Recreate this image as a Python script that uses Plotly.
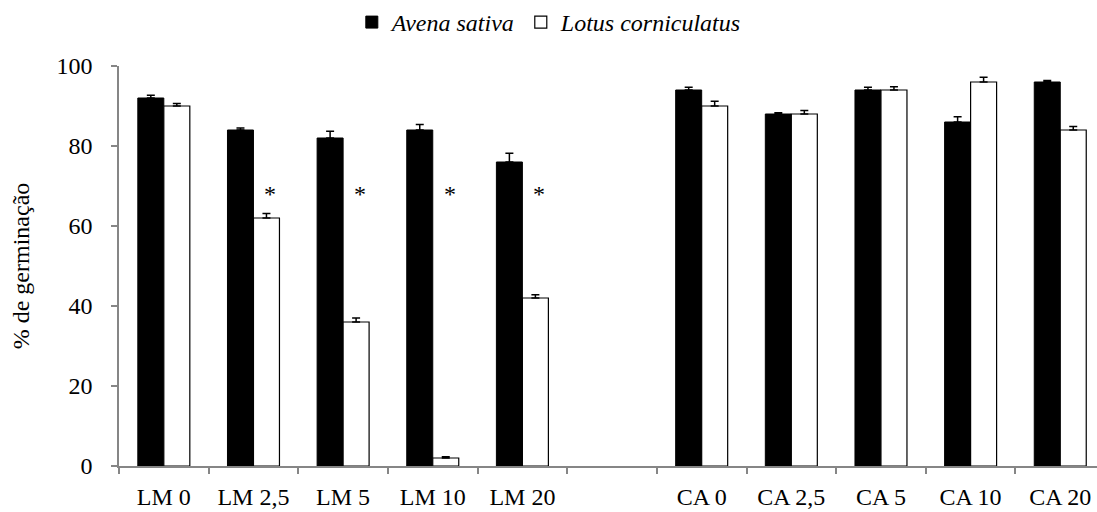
import plotly.graph_objects as go

# Treatments (blank slot separates the two groups)
categories = ["LM 0", "LM 2,5", "LM 5", "LM 10", "LM 20", " ",
              "CA 0", "CA 2,5", "CA 5", "CA 10", "CA 20"]

# Germination (%) and standard error per species
avena = [92, 84, 82, 84, 76, None, 94, 88, 94, 86, 96]
avena_err = [0.7, 0.5, 1.7, 1.4, 2.2, 0, 0.7, 0.3, 0.7, 1.3, 0.4]
lotus = [90, 62, 36, 2, 42, None, 90, 88, 94, 96, 84]
lotus_err = [0.6, 1.1, 1.0, 0.3, 0.8, 0, 1.2, 0.9, 0.8, 1.2, 0.9]

# Treatments with significant difference for Lotus corniculatus
signif = ["LM 2,5", "LM 5", "LM 10", "LM 20"]
signif_y = 68

y_ticks = [0, 20, 40, 60, 80, 100]

FONT = "'Times New Roman', 'Liberation Serif', serif"
AXIS_COLOR = "#868686"

fig = go.Figure()

fig.add_trace(go.Bar(
    name="Avena sativa",
    x=categories, y=avena,
    marker=dict(color="black", line=dict(color="black", width=1)),
    error_y=dict(type="data", array=avena_err, arrayminus=[0] * len(avena_err),
                 symmetric=False, color="black", thickness=1.5, width=4),
))
fig.add_trace(go.Bar(
    name="Lotus corniculatus",
    x=categories, y=lotus,
    marker=dict(color="white", line=dict(color="black", width=1.2)),
    error_y=dict(type="data", array=lotus_err, arrayminus=[0] * len(lotus_err),
                 symmetric=False, color="black", thickness=1.5, width=4),
))

# Significance markers above the Lotus bars
for c in signif:
    fig.add_annotation(x=c, y=signif_y, text="*", showarrow=False,
                       xshift=17, yanchor="middle",
                       font=dict(family=FONT, size=24, color="black"))

fig.update_layout(
    width=1097, height=512,
    margin=dict(l=119, r=0, t=66, b=46),
    paper_bgcolor="white", plot_bgcolor="white",
    barmode="group", bargap=0.42, bargroupgap=0,
    font=dict(family=FONT, size=24, color="black"),
    showlegend=True,
    legend=dict(orientation="h", x=0.44, xanchor="center", y=1.11, yanchor="middle",
                font=dict(family=FONT, size=24, color="black", style="italic"),
                itemwidth=30, traceorder="normal"),
)

fig.update_xaxes(
    type="category", categoryorder="array", categoryarray=categories,
    range=[-0.5, 10.41],
    showline=True, linecolor=AXIS_COLOR, linewidth=1.5,
    ticks="outside", tickson="boundaries", ticklen=6, tickcolor=AXIS_COLOR, tickwidth=1.5,
    tickfont=dict(family=FONT, size=24, color="black"),
    ticklabelstandoff=8,
    showgrid=False, zeroline=False,
)
fig.update_yaxes(
    range=[0, 100], tickvals=y_ticks,
    showline=True, linecolor=AXIS_COLOR, linewidth=1.5,
    ticks="outside", ticklen=6, tickcolor=AXIS_COLOR, tickwidth=1.5,
    tickfont=dict(family=FONT, size=24, color="black"),
    ticklabelstandoff=14,
    showgrid=False, zeroline=False,
    title=dict(text="% de germinação", font=dict(family=FONT, size=24, color="black"),
               standoff=20),
)

fig.write_html("out.html")
